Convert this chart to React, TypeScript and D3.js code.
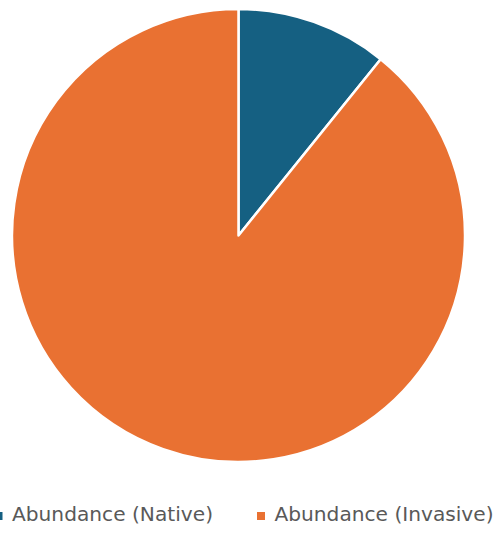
import React from "react";
import * as d3 from "d3";

const categories = ["Abundance (Native)", "Abundance (Invasive)"];
const values = [10.8, 89.2];
const colors = ["#156082", "#E97132"];

export default function App() {
  const width = 500;
  const height = 534;
  const cx = 238.5;
  const cy = 235.5;
  const r = 226.5;
  const pie = d3.pie<number>().sort(null)(values);
  const arc = d3.arc<d3.PieArcDatum<number>>().innerRadius(0).outerRadius(r);
  const markerX = [-5.5, 257];
  const textX = [12, 274.5];
  const textLen = [201, 219];
  return (
    <svg width={width} height={height} style={{ position: "absolute", left: 0, top: 0 }}>
      <g transform={`translate(${cx},${cy})`}>
        {pie.map((d, i) => (
          <path key={i} d={arc(d) || ""} fill={colors[i]} stroke="#fff" strokeWidth={2.5} strokeLinejoin="round" />
        ))}
      </g>
      {categories.map((c, i) => (
        <g key={c}>
          <rect x={markerX[i]} y={512} width={8} height={8} fill={colors[i]} />
          <text
            x={textX[i]}
            y={520.5}
            fontFamily="DejaVu Sans, sans-serif"
            fontSize={20}
            textLength={textLen[i]}
            lengthAdjust="spacingAndGlyphs"
            fill="#595959"
          >
            {c}
          </text>
        </g>
      ))}
    </svg>
  );
}
